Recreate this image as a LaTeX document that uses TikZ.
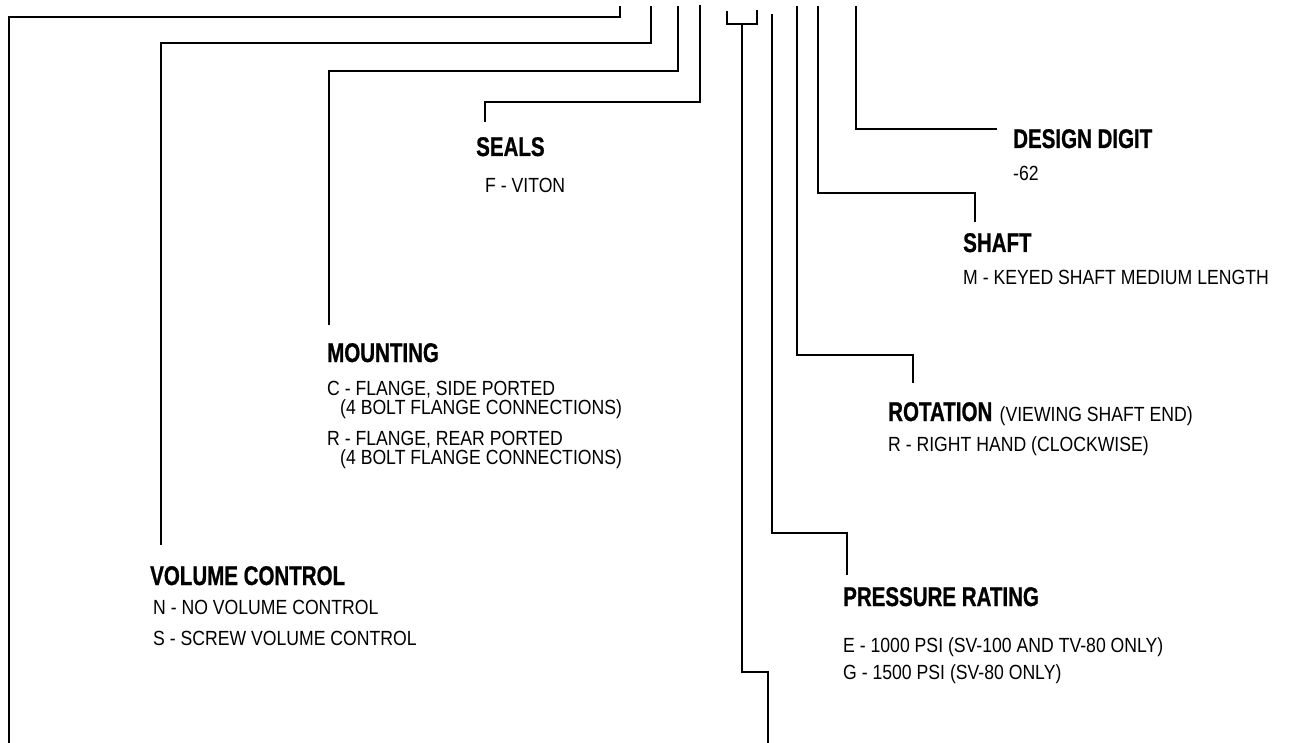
\documentclass[tikz,border=0pt]{standalone}
\usepackage{fontspec}
\setmainfont{Liberation Sans}[FakeStretch=0.86]
\newfontfamily\hdfont{Liberation Sans}[FakeStretch=0.76,FakeBold=0.8]
\begin{document}
\begin{tikzpicture}[x=1pt,y=-1pt,
  conn/.style={line width=2.8pt, line cap=butt, line join=miter},
  hd/.style={anchor=base west, inner sep=0pt, font=\hdfont\bfseries\fontsize{27}{27}\selectfont},
  bd/.style={anchor=base west, inner sep=0pt, font=\fontsize{20.5}{19}\selectfont},
  bd2/.style={bd, align=left}]
\useasboundingbox (0,0) rectangle (1295,743);

% headers and texts
\node[hd] (seals) at (476,156) {SEALS};
\node[bd] (sealsA) at (485,193) {F - VITON};

\node[hd] (mount) at (327,362) {MOUNTING};
% base anchor of a two-line node is the baseline of its last line
\node[bd2] (mountC) at (327,414) {C - FLANGE, SIDE PORTED\\\hspace*{13pt}(4 BOLT FLANGE CONNECTIONS)};
\node[bd2] (mountR) at (327,464) {R - FLANGE, REAR PORTED\\\hspace*{13pt}(4 BOLT FLANGE CONNECTIONS)};

\node[hd] (vol) at (150,585) {VOLUME CONTROL};
\node[bd] (volN) at (153,614) {N - NO VOLUME CONTROL};
\node[bd] (volS) at (153,645) {S - SCREW VOLUME CONTROL};

\node[hd] (design) at (1013,148) {DESIGN DIGIT};
\node[bd] (designA) at (1013,181) {-62};

\node[hd] (shaft) at (963,252) {SHAFT};
\node[bd] (shaftA) at (963,284) {M - KEYED SHAFT MEDIUM LENGTH};

\node[hd] (rot) at (888,421) {ROTATION};
\node[bd, anchor=base west] (rotB) at ([xshift=7pt]rot.base east) {(VIEWING SHAFT END)};
\node[bd] (rotA) at (888,451) {R - RIGHT HAND (CLOCKWISE)};

\node[hd] (press) at (843,606) {PRESSURE RATING};
\node[bd] (pressE) at (843,652) {E - 1000 PSI (SV-100 AND TV-80 ONLY)};
\node[bd] (pressG) at (843,679) {G - 1500 PSI (SV-80 ONLY)};

% connector end points
\coordinate (t1) at (620,6);   \coordinate (e1) at (9,743);
\coordinate (t2) at (651,6);   \coordinate (e2) at (161,545);
\coordinate (t3) at (678,6);   \coordinate (e3) at (329,325);
\coordinate (t4) at (700,5);   \coordinate (e4) at (485,122);
\coordinate (uL) at (727,11);  \coordinate (uR) at (757,10);
\coordinate (uS) at (742,24);  \coordinate (e5) at (768,743);
\coordinate (t6) at (772,14);  \coordinate (e6) at (847,575);
\coordinate (t7) at (797,6);   \coordinate (e7) at (913,383);
\coordinate (t8) at (818,6);   \coordinate (e8) at (975,222);
\coordinate (t9) at (856,6);   \coordinate (e9) at (997,129);

\draw[conn] (t1) -- (620,17) -- (9,17) -- (e1);
\draw[conn] (t2) -- (651,43) -- (161,43) -- (e2);
\draw[conn] (t3) -- (678,71) -- (329,71) -- (e3);
\draw[conn] (t4) -- (700,102) -- (485,102) -- (e4);
\draw[conn] (uL) -- (727,24) -- (757,24) -- (uR);
\draw[conn, line width=2.2pt] (uS) -- (742,672) -- (768,672) -- (e5);
\draw[conn] (t6) -- (772,533) -- (847,533) -- (e6);
\draw[conn] (t7) -- (797,355) -- (913,355) -- (e7);
\draw[conn] (t8) -- (818,193) -- (975,193) -- (e8);
\draw[conn] (t9) -- (856,129) -- (e9);
\end{tikzpicture}
\end{document}
